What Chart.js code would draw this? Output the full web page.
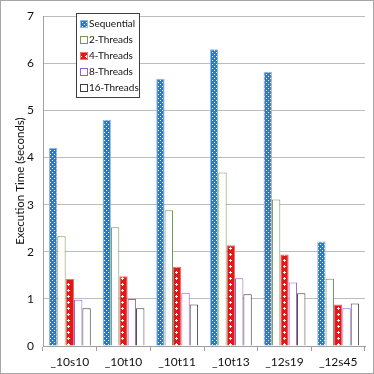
<!DOCTYPE html>
<html>
<head>
<meta charset="utf-8">
<script src="https://cdn.jsdelivr.net/npm/chart.js@4/dist/chart.umd.min.js"></script>
<style>
  html, body { margin: 0; padding: 0; background: #fff; }
  #wrap { width: 374px; height: 374px; }
</style>
</head>
<body>
<div id="wrap"><canvas id="chart" width="374" height="374"></canvas></div>
<script>
// chart data
const categories = ['_10s10', '_10t10', '_10t11', '_10t13', '_12s19', '_12s45'];
const sequential = [4.2, 4.8, 5.67, 6.3, 5.82, 2.22];
const threads2 = [2.33, 2.52, 2.88, 3.68, 3.11, 1.43];
const threads4 = [1.42, 1.48, 1.68, 2.14, 1.94, 0.88];
const threads8 = [0.98, 1.0, 1.13, 1.44, 1.35, 0.8];
const threads16 = [0.8, 0.8, 0.88, 1.1, 1.12, 0.9];
const yTicks = [0, 1, 2, 3, 4, 5, 6, 7];

// small tiled patterns like the office chart fills
function makePattern(bg, dots, size) {
    let c = document.createElement('canvas');
    c.width = size; c.height = size;
    let g = c.getContext('2d');
    g.fillStyle = bg;
    g.fillRect(0, 0, size, size);
    g.fillStyle = '#ffffff';
    dots.forEach(function (d) { g.fillRect(d[0], d[1], d[2], d[3]); });
    return g.createPattern(c, 'repeat');
}

const ctx = document.getElementById('chart').getContext('2d');
const bluePattern = makePattern('#2a78d2', [[0, 0, 1, 1], [2, 2, 1, 1]], 4);
const redPattern = makePattern('#e01818', [[2, 1, 1, 3], [1, 2, 3, 1]], 6);

const series = [
    { label: 'Sequential', data: sequential, fill: bluePattern, border: '#8fb8e8' },
    { label: '2-Threads', data: threads2, fill: '#ffffff', border: '#6f9c52' },
    { label: '4-Threads', data: threads4, fill: redPattern, border: '#f07070' },
    { label: '8-Threads', data: threads8, fill: '#ffffff', border: '#9a5fcf' },
    { label: '16-Threads', data: threads16, fill: '#ffffff', border: '#404040' }
];

// frame around the picture + legend box inside the plot
const decor = {
    id: 'decor',
    beforeDraw: function (chart) {
        let c = chart.ctx;
        c.save();
        c.fillStyle = '#fff';
        c.fillRect(0, 0, chart.width, chart.height);
        c.strokeStyle = '#a6a6a6';
        c.lineWidth = 1;
        c.strokeRect(0.5, 0.5, chart.width - 1, chart.height - 1);
        c.restore();
    },
    afterDraw: function (chart) {
        let c = chart.ctx;
        c.save();
        let x = 76.5, y = 13.5, w = 63, h = 84;
        c.fillStyle = '#fff';
        c.fillRect(x, y, w, h);
        c.strokeStyle = '#404040';
        c.lineWidth = 1;
        c.strokeRect(x, y, w, h);
        c.font = '10px Lato, "Liberation Sans", sans-serif';
        c.textBaseline = 'middle';
        series.forEach(function (s, i) {
            let cy = 24 + i * 16;
            c.fillStyle = s.fill;
            c.fillRect(81, cy - 3, 6, 6);
            c.strokeStyle = s.border;
            c.strokeRect(80.5, cy - 3.5, 7, 7);
            c.fillStyle = '#111';
            c.fillText(s.label, 89, cy);
        });
        c.restore();
    }
};

new Chart(ctx, {
    type: 'bar',
    data: {
        labels: categories,
        datasets: series.map(function (s) {
            return {
                label: s.label,
                data: s.data,
                backgroundColor: s.fill,
                borderColor: s.border,
                borderWidth: 1,
                categoryPercentage: 0.78,
                barPercentage: 1
            };
        })
    },
    options: {
        responsive: false,
        animation: false,
        layout: { padding: { top: 11, right: 9, left: 13, bottom: 0 } },
        plugins: {
            legend: { display: false },
            tooltip: { enabled: false }
        },
        scales: {
            x: {
                grid: { drawOnChartArea: false, drawTicks: true, tickLength: 5, color: '#a0a0a0', offset: true },
                border: { color: '#a0a0a0' },
                ticks: { color: '#111', font: { family: 'Lato', size: 12 }, padding: 4, maxRotation: 0 },
                afterFit: function (scale) { scale.height = 28; }
            },
            y: {
                min: 0,
                max: 7,
                afterBuildTicks: function (scale) {
                    scale.ticks = yTicks.map(function (v) { return { value: v }; });
                },
                grid: { color: '#bcbcbc', drawTicks: false },
                border: { color: '#a0a0a0' },
                ticks: { color: '#111', font: { family: 'Lato', size: 12 }, padding: 9 },
                title: {
                    display: true,
                    text: 'Execution Time (seconds)',
                    color: '#111',
                    font: { family: 'Lato', size: 11.5 },
                    padding: { top: 0, bottom: 0 }
                },
                afterFit: function (scale) { scale.width = 30; }
            }
        }
    },
    plugins: [decor]
});
</script>
</body>
</html>
